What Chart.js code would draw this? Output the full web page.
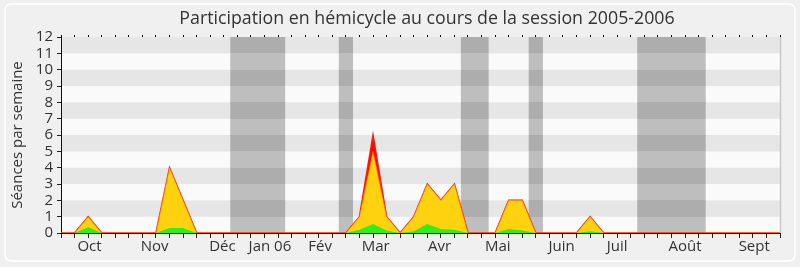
<!DOCTYPE html>
<html>
<head>
<meta charset="utf-8">
<script src="https://cdn.jsdelivr.net/npm/chart.js@4/dist/chart.umd.min.js"></script>
<style>
  html, body { margin: 0; padding: 0; background: #f0f0f0; }
  #wrap { width: 800px; height: 267px; }
</style>
</head>
<body>
<div id="wrap"><canvas id="chart" width="800" height="267"></canvas></div>
<script>
// Semaines de la session (index 0 = fin septembre 2005)
const semaines = [
  0, 1, 2, 3, 4, 5, 6, 7, 8, 9, 10, 11, 12, 13, 14, 15, 16, 17, 18, 19,
  20, 21, 22, 23, 24, 25, 26, 27, 28, 29, 30, 31, 32, 33, 34, 35, 36, 37, 38, 39,
  40, 41, 42, 43, 44, 45, 46, 47, 48, 49, 50, 51, 52, 53
];

// Séances par semaine
const seances = [
  0, 0, 1, 0, 0, 0, 0, 0, 4, 2,
  0, 0, 0, 0, 0, 0, 0, 0, 0, 0,
  0, 0, 1, 6, 1, 0, 1, 3, 2, 3,
  0, 0, 0, 2, 2, 0, 0, 0, 0, 1,
  0, 0, 0, 0, 0, 0, 0, 0, 0, 0,
  0, 0, 0, 0
];

// Présences en hémicycle
const presences = [
  0, 0, 1, 0, 0, 0, 0, 0, 4, 2,
  0, 0, 0, 0, 0, 0, 0, 0, 0, 0,
  0, 0, 1, 5, 1, 0, 1, 3, 2, 3,
  0, 0, 0, 2, 2, 0, 0, 0, 0, 1,
  0, 0, 0, 0, 0, 0, 0, 0, 0, 0,
  0, 0, 0, 0
];

// Interventions
const interventions = [
  0, 0, 0.35, 0, 0, 0, 0, 0, 0.3, 0.3,
  0, 0, 0, 0, 0, 0, 0, 0, 0, 0,
  0, 0, 0.2, 0.55, 0.15, 0, 0.1, 0.55, 0.25, 0.2,
  0, 0, 0, 0.25, 0.15, 0, 0, 0, 0, 0.1,
  0, 0, 0, 0, 0, 0, 0, 0, 0, 0,
  0, 0, 0, 0
];

// Semaines de vacances parlementaires
const vacances = [13, 14, 15, 16, 21, 30, 31, 35, 43, 44, 45, 46, 47];

// Libellés des mois sur l'axe horizontal
const moisLabels = ['Oct', 'Nov', 'Déc', 'Jan 06', 'Fév', 'Mar', 'Avr', 'Mai', 'Juin', 'Juil', 'Août', 'Sept'];
const moisPositions = [2.1, 6.9, 11.9, 15.4, 19.1, 23.2, 27.9, 32.2, 36.9, 41, 46, 51.1];

const yTicks = [0, 1, 2, 3, 4, 5, 6, 7, 8, 9, 10, 11, 12];

const FONT = "'Open Sans', 'DejaVu Sans', sans-serif";
const TEXT = '#333333';
const STRIPE_DARK = '#e6e6e6';
const STRIPE_LIGHT = '#fafafa';
const BAND_DARK = '#adadad';
const BAND_LIGHT = '#bebebe';

const pts = arr => arr.map((v, i) => ({ x: semaines[i], y: v }));

// Dégradé à paliers : les bandes de vacances suivent les bandes horizontales
function bandFill(context) {
  const chart = context.chart;
  const a = chart.chartArea;
  if (!a) return BAND_LIGHT;
  const y = chart.scales.y;
  const h = a.bottom - a.top;
  const g = chart.ctx.createLinearGradient(0, a.top, 0, a.bottom);
  for (let v = 11; v >= 0; v--) {
    const t0 = Math.min(1, Math.max(0, (y.getPixelForValue(v + 1) - a.top) / h));
    const t1 = Math.min(1, Math.max(0, (y.getPixelForValue(v) - a.top) / h));
    const c = (v % 2 === 1) ? BAND_DARK : BAND_LIGHT;
    g.addColorStop(t0, c);
    g.addColorStop(t1, c);
  }
  return g;
}

// Fond, cadre arrondi, bandes horizontales et titre
const backdrop = {
  id: 'backdrop',
  beforeDraw(chart) {
    const { ctx, chartArea: a, scales: { y } } = chart;
    ctx.save();
    ctx.fillStyle = '#f0f0f0';
    ctx.fillRect(0, 0, chart.width, chart.height);
    ctx.strokeStyle = '#ffffff';
    ctx.lineWidth = 1.5;
    ctx.beginPath();
    ctx.roundRect(5, 4, 790, 257, 6);
    ctx.stroke();
    for (let v = 0; v < 12; v++) {
      const yTop = y.getPixelForValue(v + 1);
      const yBot = y.getPixelForValue(v);
      ctx.fillStyle = (v % 2 === 1) ? STRIPE_DARK : STRIPE_LIGHT;
      ctx.fillRect(a.left, yTop, a.right - a.left, yBot - yTop);
    }
    ctx.restore();
  },
  afterDraw(chart) {
    const { ctx, chartArea: a } = chart;
    ctx.save();
    ctx.strokeStyle = '#c8c8c8';
    ctx.lineWidth = 1.5;
    ctx.beginPath();
    ctx.moveTo(a.right + 0.5, a.top);
    ctx.lineTo(a.right + 0.5, a.bottom);
    ctx.stroke();
    ctx.fillStyle = TEXT;
    ctx.font = '17.8px ' + FONT;
    ctx.textAlign = 'center';
    ctx.textBaseline = 'middle';
    ctx.fillText('Participation en hémicycle au cours de la session 2005-2006', 427, 19);
    ctx.restore();
  }
};

new Chart(document.getElementById('chart'), {
  type: 'line',
  data: {
    datasets: [
      {
        type: 'bar',
        data: vacances.map(w => ({ x: w, y: 12 })),
        backgroundColor: bandFill,
        borderWidth: 0,
        barPercentage: 1,
        categoryPercentage: 1,
        order: 4
      },
      {
        data: pts(seances),
        backgroundColor: '#ff0000',
        borderColor: '#ff1a00',
        borderWidth: 1.5,
        fill: 'origin',
        pointRadius: 0,
        tension: 0,
        order: 3
      },
      {
        data: pts(presences),
        backgroundColor: '#ffd20f',
        borderColor: 'rgba(255,120,0,0.6)',
        borderWidth: 1,
        fill: 'origin',
        pointRadius: 0,
        tension: 0,
        order: 2
      },
      {
        data: pts(interventions),
        backgroundColor: '#2cf01c',
        borderWidth: 0,
        fill: 'origin',
        pointRadius: 0,
        tension: 0,
        order: 1
      }
    ]
  },
  options: {
    responsive: false,
    animation: false,
    devicePixelRatio: 1,
    layout: { padding: { left: 0, right: 20, top: 0, bottom: 0 } },
    plugins: { legend: { display: false }, tooltip: { enabled: false }, title: { display: false } },
    scales: {
      x: {
        type: 'linear',
        position: 'bottom',
        min: 0,
        max: 53,
        offset: false,
        z: 1,
        afterBuildTicks: s => { s.ticks = semaines.map(v => ({ value: v })); },
        afterFit: s => { s.height = 5; },
        ticks: { display: false, autoSkip: false },
        grid: { offset: false, drawOnChartArea: false, drawTicks: true, tickLength: 5, color: '#222222' },
        border: { display: true, color: '#2a0a00', width: 1 }
      },
      xm: {
        type: 'linear',
        position: 'bottom',
        min: 0,
        max: 53,
        offset: false,
        afterBuildTicks: s => { s.ticks = moisPositions.map(v => ({ value: v })); },
        afterFit: s => { s.height = 29; },
        ticks: {
          autoSkip: false,
          maxRotation: 0,
          padding: 0,
          color: TEXT,
          font: { family: FONT, size: 15 },
          callback: (v, i) => moisLabels[i]
        },
        grid: { display: false, drawTicks: false },
        border: { display: false }
      },
      xt: {
        type: 'linear',
        position: 'top',
        min: 0,
        max: 53,
        offset: false,
        afterBuildTicks: s => { s.ticks = semaines.map(v => ({ value: v })); },
        afterFit: s => { s.height = 37; },
        ticks: { display: false, autoSkip: false },
        grid: { drawOnChartArea: false, drawTicks: true, tickLength: 2, color: '#000000' },
        border: { display: false }
      },
      y: {
        min: 0,
        max: 12,
        afterBuildTicks: s => { s.ticks = yTicks.map(v => ({ value: v })); },
        afterFit: s => { s.width = 61; },
        ticks: {
          autoSkip: false,
          padding: 4,
          color: TEXT,
          font: { family: FONT, size: 15 }
        },
        grid: { drawOnChartArea: false, drawTicks: true, tickLength: 4, color: '#222222' },
        border: { display: true, color: '#111111', width: 1 },
        title: {
          display: true,
          text: 'Séances par semaine',
          color: TEXT,
          font: { family: FONT, size: 15 },
          padding: { top: 9, bottom: 0 }
        }
      }
    }
  },
  plugins: [backdrop]
});
</script>
</body>
</html>
